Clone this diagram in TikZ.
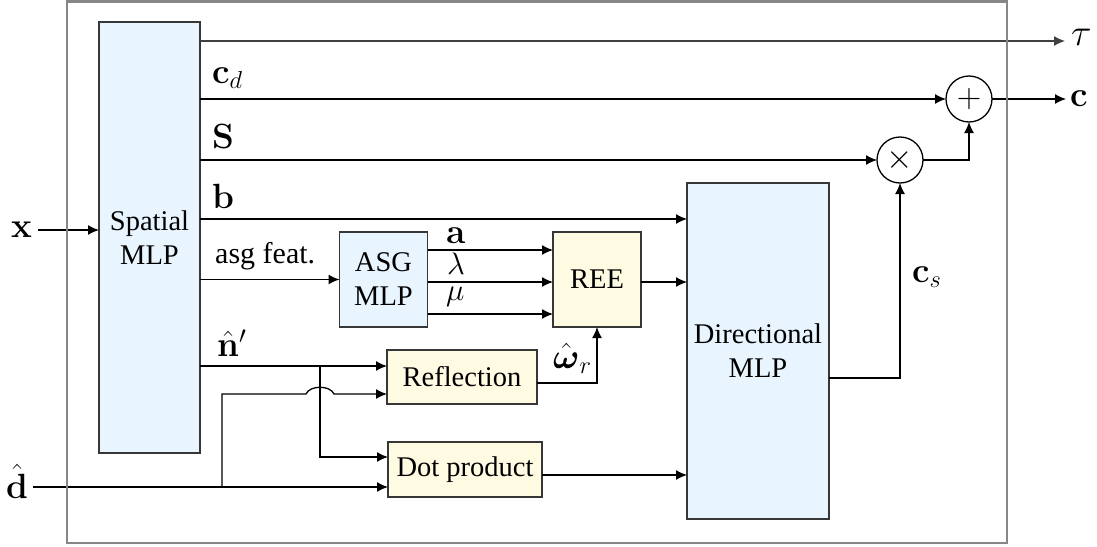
\RequirePackage{fix-cm}
\documentclass[tikz,border=0pt]{standalone}
\usepackage{amsmath}
\usepackage[no-math]{fontspec}
\setmainfont{Liberation Serif}
\usetikzlibrary{arrows.meta,calc}
\definecolor{blueF}{RGB}{232,244,254}
\definecolor{yelF}{RGB}{255,250,226}
\definecolor{frameC}{RGB}{135,135,135}
\definecolor{edgeC}{RGB}{55,55,55}
\tikzset{
  blk/.style={draw=edgeC, line width=1.3pt, inner sep=0pt, outer sep=0pt, align=center,
              font=\fontsize{28.5}{34}\selectfont},
  bluebox/.style={blk, fill=blueF},
  yelbox/.style={blk, fill=yelF},
  opnode/.style={circle, draw=black, line width=1.3pt, minimum size=46pt, inner sep=0pt, outer sep=0pt,
                 font=\fontsize{34}{38}\selectfont},
  conn/.style={line width=1.3pt, -{Latex[length=11pt,width=10pt]}},
  lbl/.style={inner sep=0pt, font=\fontsize{35}{40}\selectfont},
  lbls/.style={inner sep=0pt, font=\fontsize{31}{36}\selectfont},
  txt/.style={inner sep=0pt, font=\fontsize{30}{35}\selectfont},
  frame/.style={draw=frameC, line width=2.6pt},
}
\begin{document}
\begin{tikzpicture}[x=1pt,y=-1pt]
\useasboundingbox (0,0) rectangle (1097,546);

% blocks
\node[bluebox, minimum width=101pt, minimum height=431pt] (spatial) at (149.5,237.5) {Spatial\\MLP};
\node[bluebox, minimum width=88pt, minimum height=95pt] (asg) at (383.5,279.5) {ASG\\MLP};
\node[yelbox, minimum width=88pt, minimum height=95pt] (ree) at (597,279.5) {REE};
\node[yelbox, minimum width=150pt, minimum height=54pt] (refl) at (462,377) {Reflection};
\node[yelbox, minimum width=154pt, minimum height=55pt] (dot) at (465,469.5) {Dot product};
\node[bluebox, minimum width=142pt, minimum height=336pt] (dir) at (758,351) {Directional\\MLP};
\node[opnode] (times) at (900,160) {$\times$};
\node[opnode] (plus) at (969,99) {$+$};

% labels
\node[lbl, anchor=base west] (lcd) at (212,83) {$\mathbf{c}_d$};
\node[lbl, anchor=base west] (lS) at (212,148) {$\mathbf{S}$};
\node[lbl, anchor=base west] (lb) at (212,208) {$\mathbf{b}$};
\node[txt, anchor=base west] (lasg) at (215,263) {asg feat.};
\node[lbl, anchor=base west] (ln) at (217,356) {$\hat{\mathbf{n}}'$};
\node[lbl, anchor=base west] (la) at (446,243) {$\mathbf{a}$};
\node[lbls, anchor=base west] (llam) at (447,274) {$\lambda$};
\node[lbls, anchor=base west] (lmu) at (446,300) {$\mu$};
\node[lbl, anchor=base west] (lw) at (553,368) {$\hat{\boldsymbol{\omega}}_r$};
\node[lbl, anchor=base west] (lcs) at (912,282) {$\mathbf{c}_s$};
\node[lbl, anchor=base west, font=\fontsize{38}{42}\selectfont] (tau) at (1071,45) {$\tau$};
\node[lbl, anchor=base west] (cout) at (1070,106) {$\mathbf{c}$};
\node[lbl, anchor=base west] (xin) at (11,237) {$\mathbf{x}$};
\node[lbl, anchor=base west] (din) at (6,498) {$\hat{\mathbf{d}}$};

% helper coordinates
\coordinate (tauEnd) at (1065,41);
\coordinate (cEnd) at (1066,99);
\coordinate (yb) at (0,219);
\coordinate (ya) at (0,250);
\coordinate (yl) at (0,282);
\coordinate (ym) at (0,314);
\coordinate (yn) at (0,366);
\coordinate (nb) at (320,366);
\coordinate (yd1) at (0,457);
\coordinate (dstart) at (33,487);
\coordinate (db) at (222,487);
\coordinate (yr) at (0,394);
\coordinate (yro) at (0,383);
\coordinate (ydo) at (0,475);
\coordinate (ydir) at (0,378);
\coordinate (xstart) at (38,230);

% connectors
\draw[conn, draw=black!75] (spatial.east |- tauEnd) -- (tauEnd);
\draw[conn] (spatial.east |- plus) -- (plus);
\draw[conn] (spatial.east |- times) -- (times);
\draw[conn] (spatial.east |- yb) -- (dir.west |- yb);
\draw[conn] (spatial.east |- asg) -- (asg);
\draw[conn] (asg.east |- ya) -- (ree.west |- ya);
\draw[conn] (asg.east |- yl) -- (ree.west |- yl);
\draw[conn] (asg.east |- ym) -- (ree.west |- ym);
\draw[conn] (ree.east |- yl) -- (dir.west |- yl);
\draw[conn] (spatial.east |- yn) -- (refl.west |- yn);
\draw[conn] (nb) |- (dot.west |- yd1);
\draw[conn] (dstart) -- (dot.west |- dstart);
\draw[conn] (db) -- (db |- yr) -- ($(nb |- yr)+(-14,0)$)
   .. controls +(4,-9) and +(-4,-9) .. ($(nb |- yr)+(14,0)$) -- (refl.west |- yr);
\draw[conn] (refl.east |- yro) -| (ree.south);
\draw[conn] (dot.east |- ydo) -- (dir.west |- ydo);
\draw[conn] (dir.east |- ydir) -| (times.south);
\draw[conn] (times.east) -| (plus.south);
\draw[conn] (plus.east) -- (cEnd);
\draw[conn] (xstart) -- (spatial.west |- xstart);

% outer frame
\draw[frame] (67,1.3) rectangle (1007,543);
\end{tikzpicture}
\end{document}
